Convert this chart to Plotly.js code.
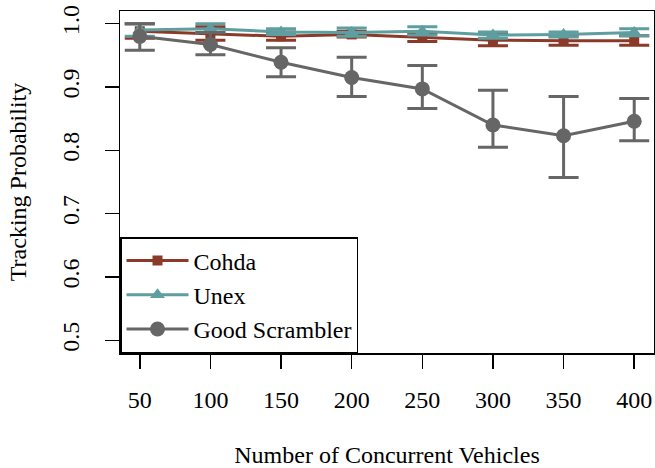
<!DOCTYPE html>
<html>
<head>
<meta charset="utf-8">
<script src="https://cdn.plot.ly/plotly-3.0.1.min.js"></script>
<style>html,body{margin:0;padding:0;background:#fff;}#chart{width:655px;height:468px;}</style>
</head>
<body>
<div id="chart"></div>
<script>
// Data
var vehicles = [50, 100, 150, 200, 250, 300, 350, 400];

var cohda     = [0.988, 0.984, 0.980, 0.983, 0.978, 0.974, 0.973, 0.973];
var cohdaLow  = [0.977, 0.974, 0.974, 0.979, 0.972, 0.965, 0.966, 0.966];
var cohdaHigh = [1.000, 0.995, 0.987, 0.988, 0.985, 0.984, 0.981, 0.981];

var unex      = [0.990, 0.992, 0.987, 0.986, 0.988, 0.982, 0.983, 0.986];
var unexLow   = [0.980, 0.986, 0.983, 0.980, 0.982, 0.977, 0.979, 0.981];
var unexHigh  = [1.000, 1.000, 0.992, 0.993, 0.995, 0.987, 0.987, 0.992];

var scrambler     = [0.980, 0.967, 0.939, 0.915, 0.897, 0.840, 0.823, 0.846];
var scramblerLow  = [0.958, 0.951, 0.916, 0.885, 0.866, 0.805, 0.757, 0.815];
var scramblerHigh = [1.000, 0.986, 0.962, 0.947, 0.934, 0.895, 0.885, 0.882];

var seriesNames = ["Cohda", "Unex", "Good Scrambler"];
var yTickVals = [0.5, 0.6, 0.7, 0.8, 0.9, 1.0];
var yTickText = ["0.5", "0.6", "0.7", "0.8", "0.9", "1.0"];
var xTickVals = [50, 100, 150, 200, 250, 300, 350, 400];
var xTickText = ["50", "100", "150", "200", "250", "300", "350", "400"];

function diff(a, b) { return a.map(function (v, i) { return v - b[i]; }); }

function makeTrace(name, y, lo, hi, color, symbol, size) {
  return {
    x: vehicles, y: y, name: name, type: "scatter", mode: "lines+markers",
    line: {color: color, width: 3},
    marker: {color: color, symbol: symbol, size: size},
    error_y: {type: "data", symmetric: false, array: diff(hi, y), arrayminus: diff(y, lo),
              color: color, thickness: 3, width: 15}
  };
}

var traces = [
  makeTrace(seriesNames[0], cohda, cohdaLow, cohdaHigh, "#8B3A2A", "square", 10),
  makeTrace(seriesNames[1], unex, unexLow, unexHigh, "#5F9EA0", "triangle-up", 13),
  makeTrace(seriesNames[2], scrambler, scramblerLow, scramblerHigh, "#666666", "circle", 15)
];

var serif = "Liberation Serif";
var layout = {
  width: 655, height: 468,
  margin: {l: 120, r: 1, t: 11, b: 115},
  paper_bgcolor: "#ffffff", plot_bgcolor: "#ffffff",
  font: {family: serif, size: 24, color: "#000"},
  showlegend: true,
  legend: {x: 0, y: 0, xanchor: "left", yanchor: "bottom", bgcolor: "#ffffff",
           bordercolor: "#000", borderwidth: 1.5, itemwidth: 62,
           font: {family: serif, size: 24, color: "#000"}},
  xaxis: {
    range: [36, 414], tickvals: xTickVals, ticktext: xTickText,
    ticks: "outside", ticklen: 14, tickwidth: 1.5, tickcolor: "#000",
    showline: true, mirror: true, linecolor: "#000", linewidth: 1.5,
    showgrid: false, zeroline: false, ticklabelstandoff: 11,
    tickfont: {family: serif, size: 24},
    title: {text: "Number of Concurrent Vehicles", standoff: 43,
            font: {family: serif, size: 24}}
  },
  yaxis: {
    range: [0.48, 1.02], tickvals: yTickVals, ticktext: yTickText,
    ticks: "outside", ticklen: 14, tickwidth: 1.5, tickcolor: "#000",
    showline: true, mirror: true, linecolor: "#000", linewidth: 1.5,
    showgrid: false, zeroline: false, tickangle: -90, ticklabelstandoff: 16,
    tickfont: {family: serif, size: 24},
    title: {text: "Tracking Probability", standoff: 24,
            font: {family: serif, size: 24}}
  }
};

Plotly.newPlot("chart", traces, layout, {staticPlot: true, displayModeBar: false});
</script>
</body>
</html>
